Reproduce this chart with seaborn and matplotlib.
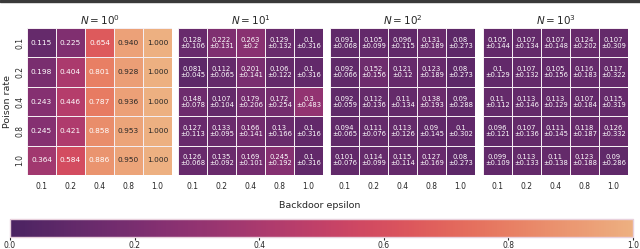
import matplotlib
matplotlib.use("Agg")
import matplotlib.pyplot as plt
import numpy as np
import seaborn as sns

# eixos
poison_rates = ["0.1", "0.2", "0.4", "0.8", "1.0"]
epsilons = ["0.1", "0.2", "0.4", "0.8", "1.0"]
titulos = [r"$N=10^0$", r"$N=10^1$", r"$N=10^2$", r"$N=10^3$"]

# N = 10^0 (sem desvio)
media_n0 = [
    [0.115, 0.225, 0.654, 0.940, 1.000],
    [0.198, 0.404, 0.801, 0.928, 1.000],
    [0.243, 0.446, 0.787, 0.936, 1.000],
    [0.245, 0.421, 0.858, 0.953, 1.000],
    [0.364, 0.584, 0.886, 0.950, 1.000],
]

# N = 10^1
media_n1 = [
    [0.128, 0.222, 0.263, 0.129, 0.1],
    [0.081, 0.112, 0.201, 0.106, 0.1],
    [0.148, 0.107, 0.179, 0.172, 0.3],
    [0.127, 0.133, 0.166, 0.13, 0.1],
    [0.126, 0.135, 0.169, 0.245, 0.1],
]
desvio_n1 = [
    [0.106, 0.131, 0.2, 0.132, 0.316],
    [0.045, 0.065, 0.141, 0.122, 0.316],
    [0.078, 0.104, 0.206, 0.254, 0.483],
    [0.113, 0.095, 0.141, 0.166, 0.316],
    [0.068, 0.092, 0.101, 0.192, 0.316],
]

# N = 10^2
media_n2 = [
    [0.091, 0.105, 0.096, 0.131, 0.08],
    [0.092, 0.152, 0.121, 0.123, 0.08],
    [0.092, 0.112, 0.11, 0.138, 0.09],
    [0.094, 0.111, 0.113, 0.09, 0.1],
    [0.101, 0.114, 0.115, 0.127, 0.08],
]
desvio_n2 = [
    [0.068, 0.099, 0.115, 0.189, 0.273],
    [0.066, 0.156, 0.12, 0.189, 0.273],
    [0.059, 0.136, 0.134, 0.193, 0.288],
    [0.065, 0.076, 0.126, 0.145, 0.302],
    [0.076, 0.099, 0.114, 0.169, 0.273],
]

# N = 10^3
media_n3 = [
    [0.105, 0.107, 0.107, 0.124, 0.107],
    [0.1, 0.107, 0.105, 0.116, 0.117],
    [0.11, 0.113, 0.113, 0.107, 0.115],
    [0.096, 0.107, 0.111, 0.118, 0.126],
    [0.099, 0.113, 0.11, 0.123, 0.09],
]
desvio_n3 = [
    [0.144, 0.134, 0.148, 0.202, 0.309],
    [0.129, 0.132, 0.156, 0.183, 0.322],
    [0.112, 0.146, 0.129, 0.184, 0.319],
    [0.121, 0.136, 0.145, 0.187, 0.332],
    [0.109, 0.133, 0.138, 0.188, 0.286],
]

medias = [media_n0, media_n1, media_n2, media_n3]
desvios = [None, desvio_n1, desvio_n2, desvio_n3]

sns.set_style("white")
plt.rcParams["font.family"] = ["DejaVu Sans"]

fig = plt.figure(figsize=(6.4, 2.49), dpi=100)
W, H = 640, 249
lefts = [27, 178, 330, 483]
cmap = sns.color_palette("flare_r", as_cmap=True)

for i, left in enumerate(lefts):
    ax = fig.add_axes([left / W, 1 - 175 / H, 145 / W, 147 / H])
    m = np.array(medias[i])
    if desvios[i] is None:
        annot = np.array([[f"{v:.3f}" for v in row] for row in m])
        fs = 5.3
    else:
        d = desvios[i]
        annot = np.array([[f"{m[r][c]:g}\n±{d[r][c]:g}" for c in range(5)] for r in range(5)])
        fs = 4.9
    sns.heatmap(m, ax=ax, cmap=cmap, vmin=0, vmax=1, cbar=False,
                annot=annot, fmt="", annot_kws={"fontsize": fs, "linespacing": 1.0},
                linewidths=0.6, linecolor="#f4eef2",
                xticklabels=epsilons, yticklabels=poison_rates if i == 0 else False)
    ax.set_title(titulos[i], fontsize=7.5, pad=2)
    ax.tick_params(axis="x", labelsize=5.5, length=0, pad=5)
    if i == 0:
        ax.tick_params(axis="y", labelsize=5.5, length=0, pad=2)
        ax.set_yticklabels(poison_rates, rotation=90, va="center")
        ax.set_ylabel("Poison rate", fontsize=6.8, labelpad=2)
    for t in ax.get_xticklabels():
        t.set_rotation(0)

# barra de cores
cax = fig.add_axes([10 / W, 1 - 237 / H, 623 / W, 18 / H])
sm = plt.cm.ScalarMappable(cmap=cmap, norm=plt.Normalize(0, 1))
cb = fig.colorbar(sm, cax=cax, orientation="horizontal")
cb.set_ticks([0.0, 0.2, 0.4, 0.6, 0.8, 1.0])
cb.ax.tick_params(labelsize=5.5, length=2, pad=1)
cb.outline.set_edgecolor("#e8d0dc")
cb.outline.set_linewidth(1)
fig.text(0.5, 1 - 205 / H, "Backdoor epsilon", ha="center", va="center", fontsize=6.8)

# faixa escura no topo
fig.patches.append(plt.Rectangle((0, 1 - 2 / H), 1, 2 / H, transform=fig.transFigure,
                                 color="#3a3a3a", zorder=10))

fig.savefig("out.png", dpi=100)
